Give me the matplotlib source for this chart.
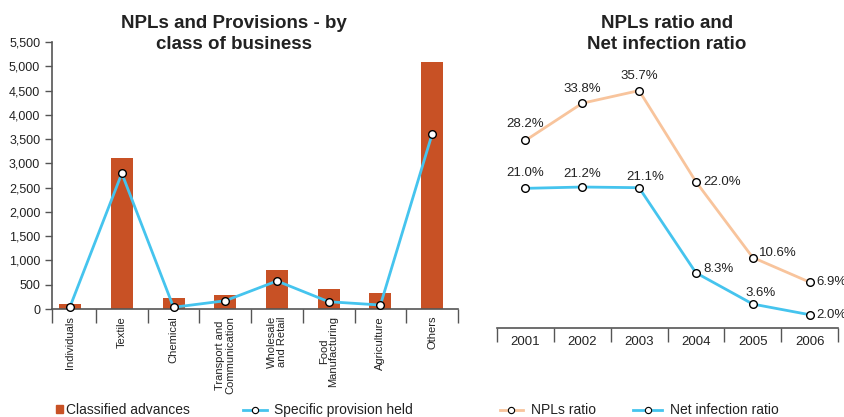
import matplotlib
matplotlib.use("Agg")
import matplotlib.pyplot as plt
from matplotlib import font_manager
from matplotlib.lines import Line2D
from matplotlib.patches import Patch
from matplotlib.ticker import FixedLocator, FuncFormatter

# Classified advances and specific provisions by class of business
sectors = ["Individuals", "Textile", "Chemical", "Transport and\nCommunication",
           "Wholesale\nand Retail", "Food\nManufacturing", "Agriculture", "Others"]
classified_advances = [100, 3120, 225, 290, 800, 410, 330, 5080]
specific_provision = [50, 2795, 35, 170, 577, 150, 82, 3605]

# NPL ratio and net infection ratio by year (%)
years = ["2001", "2002", "2003", "2004", "2005", "2006"]
npl_ratio = [28.2, 33.8, 35.7, 22.0, 10.6, 6.9]
net_infection = [21.0, 21.2, 21.1, 8.3, 3.6, 2.0]

BAR = "#c85125"
BLUE = "#45c4ee"
ORANGE = "#f8c49c"
AXIS = "#555555"
TEXT = "#222222"

plt.rcParams["font.family"] = ["Liberation Sans", "DejaVu Sans"]
names = {f.name for f in font_manager.fontManager.ttflist}
narrow = "Liberation Sans Narrow" if "Liberation Sans Narrow" in names else "Liberation Sans"

fig = plt.figure(figsize=(8.44, 4.17), dpi=100)

# ---- left: bars + provision line
ax = fig.add_axes([52 / 844, 1 - 309 / 417, 406 / 844, 267 / 417])
x = list(range(len(sectors)))
ax.bar(x, classified_advances, width=0.425, color=BAR, zorder=2)
ax.plot(x, specific_provision, color=BLUE, lw=2, marker="o", ms=5.5,
        mfc="white", mec="black", mew=1, zorder=3, clip_on=False)
ax.set_xlim(-0.35, len(sectors) - 0.5)
ax.set_ylim(0, 5500)
ax.yaxis.set_major_locator(FixedLocator(range(0, 5501, 500)))
ax.yaxis.set_major_formatter(FuncFormatter(lambda v, p: f"{int(v):,}"))
ax.tick_params(axis="y", labelsize=9, colors=AXIS, labelcolor=TEXT, length=5, width=1)
ax.xaxis.set_major_locator(FixedLocator(x))
ax.xaxis.set_minor_locator(FixedLocator([-0.35] + [i + 0.5 for i in range(len(sectors))]))
ax.set_xticklabels(sectors, rotation=90, va="top", ha="center", multialignment="center",
                   fontsize=8, family=narrow, color=TEXT, linespacing=0.95)
ax.tick_params(axis="x", which="major", length=0, pad=5)
ax.tick_params(axis="x", which="minor", length=10, width=1, color=AXIS)
for s in ("top", "right"):
    ax.spines[s].set_visible(False)
for s in ("left", "bottom"):
    ax.spines[s].set_color(AXIS)
    ax.spines[s].set_linewidth(1.2)

fig.text(234 / 844, 1 - 34 / 417, "NPLs and Provisions - by\nclass of business",
         ha="center", va="center", fontsize=13.5, fontweight="bold", color=TEXT,
         linespacing=1.3)

# ---- right: ratio lines
ax2 = fig.add_axes([497 / 844, 1 - 328 / 417, 341 / 844, 266 / 417])
xy = list(range(len(years)))
ax2.plot(xy, npl_ratio, color=ORANGE, lw=2, marker="o", ms=5.5,
         mfc="white", mec="black", mew=1, clip_on=False)
ax2.plot(xy, net_infection, color=BLUE, lw=2, marker="o", ms=5.5,
         mfc="white", mec="black", mew=1, clip_on=False)
ax2.set_xlim(-0.5, len(years) - 0.5)
ax2.set_ylim(0, 40)
ax2.set_yticks([])
ax2.xaxis.set_major_locator(FixedLocator(xy))
ax2.xaxis.set_minor_locator(FixedLocator([i - 0.5 for i in range(len(years) + 1)]))
ax2.set_xticklabels(years, fontsize=9.5, color=TEXT)
ax2.tick_params(axis="x", which="major", length=0, pad=6)
ax2.tick_params(axis="x", which="minor", length=10, width=1, color=AXIS)
for s in ("top", "right", "left"):
    ax2.spines[s].set_visible(False)
ax2.spines["bottom"].set_color(AXIS)
ax2.spines["bottom"].set_linewidth(1.2)

# label offsets in pixels (dx, dy, ha)
npl_off = [(0, 16, "center"), (0, 14, "center"), (0, 15, "center"),
           (7, 0, "left"), (6, 5, "left"), (7, 0, "left")]
net_off = [(0, 15, "center"), (0, 13, "center"), (6, 11, "center"),
           (7, 4, "left"), (8, 11, "center"), (7, 0, "left")]
for vals, offs in ((npl_ratio, npl_off), (net_infection, net_off)):
    for i, (v, (dx, dy, ha)) in enumerate(zip(vals, offs)):
        ax2.annotate(f"{v:.1f}%", (i, v), xytext=(dx, dy), textcoords="offset pixels",
                     ha=ha, va="center", fontsize=9.5, color=TEXT, annotation_clip=False)

fig.text(667 / 844, 1 - 34 / 417, "NPLs ratio and\nNet infection ratio",
         ha="center", va="center", fontsize=13.5, fontweight="bold", color=TEXT,
         linespacing=1.3)

# ---- legend entries, one small legend each
mk = dict(marker="o", ms=4.5, mfc="white", mec="black", mew=0.8, lw=2)
entries = [
    (Patch(color=BAR), "Classified advances", 56, 0.5, 0.25),
    (Line2D([], [], color=BLUE, **mk), "Specific provision held", 243, 1.75, 0.45),
    (Line2D([], [], color=ORANGE, **mk), "NPLs ratio", 500, 1.65, 0.6),
    (Line2D([], [], color=BLUE, **mk), "Net infection ratio", 633, 2.1, 0.6),
]
for handle, label, x0, hl, pad in entries:
    fig.legend([handle], [label], loc="center left",
               bbox_to_anchor=(x0 / 844, 1 - 410 / 417),
               frameon=False, fontsize=10, borderaxespad=0, borderpad=0,
               handlelength=hl, handleheight=0.5, handletextpad=pad,
               labelcolor=TEXT)

fig.savefig("out.png", dpi=100)
